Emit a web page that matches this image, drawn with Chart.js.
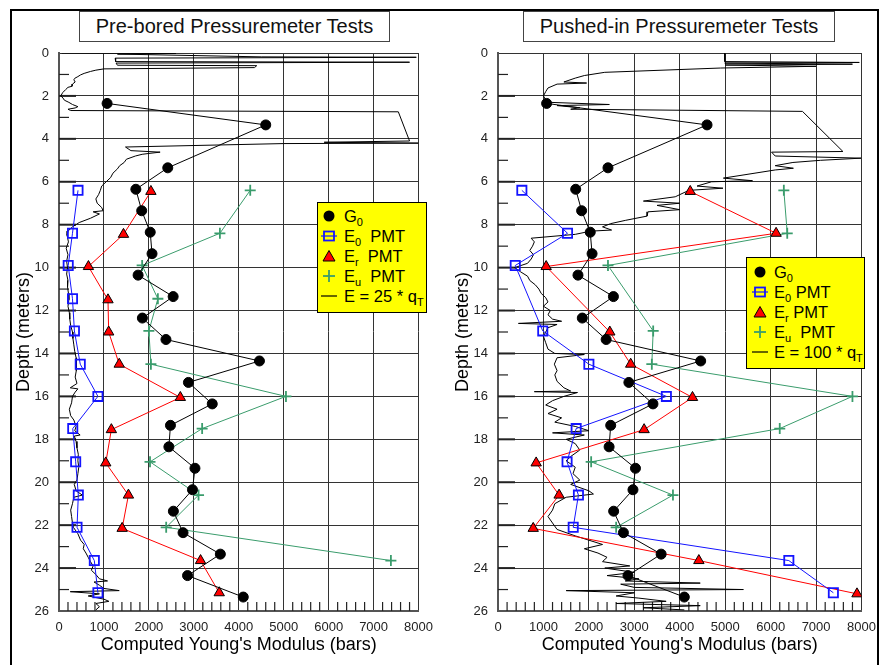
<!DOCTYPE html>
<html>
<head>
<meta charset="utf-8">
<script src="https://cdn.jsdelivr.net/npm/chart.js@4.4.0/dist/chart.umd.min.js"></script>
<style>
  body { margin: 0; background: #fff; font-family: "Liberation Sans", Arial, sans-serif; }
  #wrap { position: relative; width: 885px; height: 665px; overflow: hidden; background: #fff; }
  .frame { position: absolute; left: 10px; top: 9px; width: 869px; height: 700px; border: 2px solid #000; box-sizing: border-box; }
  canvas { position: absolute; top: 0; }
  .title { position: absolute; top: 11px; height: 31px; border: 1px solid #444; box-sizing: border-box; background: #fff;
           font-size: 20px; line-height: 29px; text-align: center; color: #111; }
  .legend { position: absolute; background: #ffff00; border: 1.5px solid #000; box-sizing: border-box; font-size: 16.5px; color: #000; }
  .legend .row { position: absolute; height: 20px; line-height: 20px; white-space: pre; }
  .legend svg { position: absolute; }
  sub { font-size: 11px; vertical-align: -4px; line-height: 0; }
</style>
</head>
<body>
<div id="wrap">
  <canvas id="leftChart" width="442" height="665" style="left:0"></canvas>
  <canvas id="rightChart" width="443" height="665" style="left:442px"></canvas>
  <div class="frame"></div>
  <div class="title" style="left:79px;width:311px">Pre-bored Pressuremeter Tests</div>
  <div class="title" style="left:523px;width:312px">Pushed-in Pressuremeter Tests</div>
  <div class="legend" id="legendLeft" style="left:317px;top:202px;width:110px;height:111px"></div>
  <div class="legend" id="legendRight" style="left:746px;top:257px;width:119px;height:112px"></div>
</div>
<script>
// axis ticks
const modulusTicks = [0, 1000, 2000, 3000, 4000, 5000, 6000, 7000, 8000];
const depthTicks = [0, 2, 4, 6, 8, 10, 12, 14, 16, 18, 20, 22, 24, 26];

// G0 (same in both panels)
const g0Depth = [2.35, 3.35, 5.35, 6.35, 7.35, 8.35, 9.35, 10.35, 11.35, 12.35, 13.35, 14.35, 15.35, 16.35, 17.35, 18.35, 19.35, 20.35, 21.35, 22.35, 23.35, 24.35, 25.35];
const g0Value = [1070, 4600, 2420, 1710, 1840, 2030, 2070, 1760, 2540, 1855, 2380, 4460, 2880, 3410, 2480, 2445, 3025, 2970, 2545, 2760, 3590, 2860, 4100];

// pre-bored PMT
const e0DepthL = [6.4, 8.4, 9.9, 11.45, 12.95, 14.5, 16.0, 17.5, 19.05, 20.6, 22.1, 23.65, 25.15];
const e0ValueL = [423, 300, 205, 300, 343, 473, 866, 306, 371, 430, 401, 786, 866];
const erDepthL = [6.45, 8.45, 9.95, 11.5, 13.0, 14.5, 16.05, 17.55, 19.1, 20.6, 22.15, 23.65, 25.15];
const erValueL = [2045, 1435, 655, 1090, 1105, 1340, 2700, 1165, 1040, 1545, 1405, 3150, 3565];
const euDepthL = [6.4, 8.4, 9.9, 11.45, 12.95, 14.5, 16.0, 17.5, 19.05, 20.6, 22.1, 23.65];
const euValueL = [4255, 3580, 1850, 2200, 2000, 2045, 5050, 3185, 2025, 3105, 2385, 7385];

// pushed-in PMT
const e0DepthR = [6.4, 8.4, 9.9, 12.95, 14.5, 16.0, 17.5, 19.05, 20.6, 22.1, 23.65, 25.15];
const e0ValueR = [525, 1530, 380, 985, 2000, 3705, 1720, 1520, 1770, 1655, 6400, 7380];
const erDepthR = [6.45, 8.4, 9.95, 13.0, 14.5, 16.05, 17.55, 19.1, 20.6, 22.15, 23.65, 25.2];
const erValueR = [4230, 6120, 1060, 2460, 2920, 4280, 3215, 840, 1345, 775, 4420, 7900];
const euDepthR = [6.4, 8.4, 9.9, 12.95, 14.5, 16.0, 17.5, 19.05, 20.6, 22.1];
const euValueR = [6290, 6365, 2420, 3415, 3385, 7800, 6200, 2050, 3850, 2600];

// CPT profile E = 25*qT, [depth, modulus]
const cptLeft = [
  [0.00,60],[0.02,2600],[0.05,1300],[0.18,4500],[0.20,7950],[0.24,1250],[0.40,1260],[0.43,7800],[0.47,1270],
  [0.57,1300],[0.59,4400],[0.68,4350],[0.74,1000],[0.80,820],[0.86,700],[0.95,560],[1.02,480],[1.10,420],
  [1.18,350],[1.25,330],[1.35,360],[1.45,300],[1.55,290],[1.60,200],[1.70,150],[1.85,80],[2.00,40],[2.10,90],
  [2.20,120],[2.30,220],[2.40,300],[2.50,420],[2.56,360],[2.62,200],[2.68,260],[2.74,7550],[4.10,7800],
  [4.16,5900],[4.20,8000],[4.22,5000],[4.38,1480],[4.55,1600],[4.62,2250],[4.68,2000],[4.72,1850],[4.80,1700],
  [4.95,1500],[5.10,1450],[5.25,1350],[5.40,1300],[5.60,1200],[5.80,1150],[6.00,1050],[6.20,950],[6.40,920],
  [6.60,880],[6.80,820],[7.00,850],[7.20,950],[7.35,980],[7.40,760],[7.50,900],[7.70,700],[7.90,450],[8.10,300],
  [8.30,200],[8.50,180],[8.80,210],[9.10,160],[9.40,200],[9.70,170],[10.00,190],[10.30,170],[10.60,200],
  [10.90,190],[11.20,210],[11.50,220],[11.80,200],[12.10,230],[12.40,240],[12.70,260],[13.00,300],[13.30,310],
  [13.60,330],[13.90,350],[14.20,380],[14.50,380],[14.80,390],[15.10,360],[15.40,400],[15.60,250],[15.65,420],
  [15.80,360],[16.00,300],[16.30,280],[16.60,230],[16.90,260],[17.10,330],[17.40,380],[17.60,350],[17.80,470],
  [17.85,340],[18.10,380],[18.40,400],[18.70,430],[19.00,420],[19.30,440],[19.60,420],[19.90,400],[20.10,340],
  [20.40,380],[20.60,520],[20.70,330],[21.00,300],[21.30,260],[21.60,280],[21.90,300],[22.10,320],[22.40,420],
  [22.70,480],[22.90,560],[23.10,540],[23.30,600],[23.50,650],[23.70,700],[23.90,760],[24.10,720],[24.30,820],
  [24.50,900],[24.60,1080],[24.65,780],[24.80,900],[24.95,1000],[25.05,1340],[25.10,250],[25.20,900],[25.30,650],
  [25.45,1000],[25.55,1110],[25.65,820],[25.80,900],[25.95,820]
];

// CPT profile E = 100*qT, [depth, modulus]
const cptRight = [
  [0.00,4990],[0.40,4990],[0.44,7950],[0.47,4990],[0.52,7800],[0.56,5000],[0.62,7000],[0.70,4900],[0.90,2350],
  [1.05,1900],[1.17,1700],[1.35,1450],[1.40,1950],[1.45,1300],[1.63,1100],[1.80,1050],[2.00,1000],[2.18,1050],
  [2.30,1150],[2.40,2450],[2.45,1300],[2.55,1800],[2.62,1600],[2.72,6700],[4.59,7590],[4.62,6020],[4.80,6100],
  [4.90,7990],[5.00,7100],[5.10,6490],[5.25,6100],[5.37,6500],[5.45,6100],[5.83,4960],[5.95,5600],[6.00,4700],
  [6.20,4380],[6.30,4950],[6.40,4200],[6.70,3900],[6.90,3200],[7.00,4000],[7.10,3500],[7.30,4000],[7.40,3300],
  [7.60,3280],[7.80,2800],[7.95,2480],[8.10,2300],[8.25,2500],[8.30,2040],[8.45,1700],[8.63,730],[8.80,800],
  [9.00,760],[9.20,700],[9.40,780],[9.60,730],[9.80,650],[10.00,365],[10.20,500],[10.40,650],[10.60,700],
  [10.80,820],[11.00,900],[11.20,950],[11.40,1050],[11.60,1100],[11.80,1000],[12.00,1150],[12.20,1100],
  [12.40,1200],[12.50,1400],[12.60,450],[12.65,1300],[12.80,1100],[13.00,1050],[13.20,1000],[13.50,1050],
  [13.80,1100],[14.00,1250],[14.05,1900],[14.20,1300],[14.50,1240],[14.80,1300],[15.00,1250],[15.30,1300],
  [15.60,1450],[15.75,1600],[15.78,800],[15.82,1750],[16.00,1450],[16.20,1200],[16.40,1050],[16.60,1300],
  [16.80,1100],[17.00,1400],[17.20,1250],[17.40,1700],[17.60,2000],[17.70,1200],[17.80,1900],[18.00,1500],
  [18.20,1700],[18.50,1800],[18.80,1600],[19.00,1500],[19.30,1700],[19.60,1650],[19.90,1800],[20.10,1600],
  [20.40,2000],[20.55,2100],[20.70,1500],[21.00,1250],[21.30,1200],[21.60,1100],[21.90,1200],[22.20,1300],
  [22.50,1700],[22.70,2000],[22.90,2300],[23.10,1900],[23.30,2200],[23.50,2400],[23.70,2300],[23.90,2900],
  [24.00,2350],[24.20,3000],[24.35,2400],[24.50,3100],[24.60,2800],[24.70,4450],[24.75,2700],[24.90,3000],
  [25.00,5400],[25.05,1500],[25.15,3000],[25.30,2600],[25.40,3100],[25.55,3700],[25.65,2600],[25.75,4450],
  [25.85,3200],[25.95,4100]
];

const BLUE = '#1414ff';
const RED = '#ff0000';
const GREEN = '#3a9c6c';

Chart.defaults.font.family = '"Liberation Sans", Arial, sans-serif';
Chart.defaults.color = '#222';

function toPoints(depths, values) {
  return depths.map((d, i) => ({ x: values[i], y: d }));
}

// small ticks inside the plot frame
const innerTicks = {
  id: 'innerTicks',
  beforeDatasetsDraw(chart) {
    const { ctx, chartArea: a, scales: { x, y } } = chart;
    ctx.save();
    ctx.strokeStyle = '#222';
    for (let d = 1; d < 26; d++) {
      const py = y.getPixelForValue(d);
      ctx.lineWidth = d % 2 ? 1.2 : 2;
      ctx.beginPath();
      ctx.moveTo(a.left, py);
      ctx.lineTo(a.left + (d % 2 ? 10 : 17), py);
      ctx.stroke();
    }
    ctx.lineWidth = 1.2;
    for (let v = 200; v < 8000; v += 200) {
      if (v % 1000 === 0) continue;
      const px = x.getPixelForValue(v);
      ctx.beginPath();
      ctx.moveTo(px, a.bottom);
      ctx.lineTo(px, a.bottom - 9);
      ctx.stroke();
    }
    ctx.restore();
  }
};

function makeChart(id, cfg) {
  const ctx = document.getElementById(id).getContext('2d');
  return new Chart(ctx, {
    type: 'scatter',
    data: {
      datasets: [
        { label: 'G0', data: toPoints(g0Depth, g0Value), showLine: true, borderColor: '#000', borderWidth: 1,
          pointStyle: 'circle', pointRadius: 5, pointBackgroundColor: '#000', pointBorderColor: '#000', pointBorderWidth: 1 },
        { label: 'E0 PMT', data: toPoints(cfg.e0Depth, cfg.e0Value), showLine: true, borderColor: BLUE, borderWidth: 1,
          pointStyle: 'rect', pointRadius: 6.5, pointBackgroundColor: 'rgba(0,0,0,0)', pointBorderColor: BLUE, pointBorderWidth: 1.8 },
        { label: 'Er PMT', data: toPoints(cfg.erDepth, cfg.erValue), showLine: true, borderColor: RED, borderWidth: 1,
          pointStyle: 'triangle', pointRadius: 6, pointBackgroundColor: RED, pointBorderColor: '#000', pointBorderWidth: 1 },
        { label: 'Eu PMT', data: toPoints(cfg.euDepth, cfg.euValue), showLine: true, borderColor: GREEN, borderWidth: 1,
          pointStyle: 'cross', pointRadius: 5.5, pointBorderColor: GREEN, pointBorderWidth: 1.8 },
        { label: 'CPT', data: cfg.trace.map(p => ({ x: p[1], y: p[0] })), showLine: true, borderColor: '#000', borderWidth: 1,
          pointRadius: 0 }
      ]
    },
    options: {
      responsive: false,
      animation: false,
      layout: { padding: { left: 0, top: 53, right: cfg.padRight, bottom: 0 } },
      plugins: { legend: { display: false }, tooltip: { enabled: false } },
      scales: {
        x: {
          type: 'linear', min: 0, max: 8000,
          afterBuildTicks: s => { s.ticks = modulusTicks.map(v => ({ value: v })); },
          afterFit: s => { s.height = 54; },
          ticks: { padding: 9, font: { size: 13 }, color: '#222', callback: v => String(v) },
          grid: { color: '#333', lineWidth: 1, drawTicks: false },
          border: { color: '#555', width: 2 },
          title: { display: true, text: "Computed Young's Modulus (bars)", font: { size: 18 }, color: '#000',
                   padding: { top: 0, bottom: 9 } }
        },
        y: {
          type: 'linear', min: 0, max: 26, reverse: true,
          afterBuildTicks: s => { s.ticks = depthTicks.map(v => ({ value: v })); },
          afterFit: s => { s.width = cfg.yWidth; },
          ticks: { padding: 10, font: { size: 13 }, color: '#222', callback: v => String(v) },
          grid: { color: '#333', lineWidth: 1, drawTicks: false },
          border: { color: '#555', width: 2 },
          title: { display: true, text: 'Depth (meters)', font: { size: 18 }, color: '#000',
                   padding: { top: cfg.yTitlePad, bottom: 0 } }
        }
      }
    },
    plugins: [innerTicks]
  });
}

makeChart('leftChart', {
  e0Depth: e0DepthL, e0Value: e0ValueL, erDepth: erDepthL, erValue: erValueL,
  euDepth: euDepthL, euValue: euValueL, trace: cptLeft,
  padRight: 16, yWidth: 59, yTitlePad: 13
});
makeChart('rightChart', {
  e0Depth: e0DepthR, e0Value: e0ValueR, erDepth: erDepthR, erValue: erValueR,
  euDepth: euDepthR, euValue: euValueR, trace: cptRight,
  padRight: 21, yWidth: 56, yTitlePad: 10
});

// yellow legend boxes
const symbols = {
  g0: '<svg width="16" height="16"><circle cx="8" cy="8" r="5.5" fill="#000"/></svg>',
  e0: '<svg width="16" height="16"><line x1="0" y1="8" x2="16" y2="8" stroke="' + BLUE + '" stroke-width="1.2"/>' +
      '<rect x="3" y="3.5" width="10" height="9" fill="none" stroke="' + BLUE + '" stroke-width="1.8"/></svg>',
  er: '<svg width="16" height="16"><polygon points="8,2.5 14,13 2,13" fill="' + RED + '" stroke="#000" stroke-width="1"/></svg>',
  eu: '<svg width="16" height="16"><line x1="2" y1="8" x2="14" y2="8" stroke="' + GREEN + '" stroke-width="1.8"/>' +
      '<line x1="8" y1="2" x2="8" y2="14" stroke="' + GREEN + '" stroke-width="1.8"/></svg>',
  cpt: '<svg width="16" height="16"><line x1="0" y1="8" x2="16" y2="8" stroke="#000" stroke-width="1.2"/></svg>'
};

function buildLegend(id, rows, symX, textX, firstY, gap) {
  const box = document.getElementById(id);
  rows.forEach((r, i) => {
    const cy = firstY + i * gap;
    const s = document.createElement('div');
    s.innerHTML = symbols[r.sym];
    s.firstChild.style.left = (symX - 8) + 'px';
    s.firstChild.style.top = (cy - 8) + 'px';
    box.appendChild(s.firstChild);
    const t = document.createElement('div');
    t.className = 'row';
    t.style.left = textX + 'px';
    t.style.top = (cy - 10) + 'px';
    t.innerHTML = r.text;
    box.appendChild(t);
  });
}

buildLegend('legendLeft', [
  { sym: 'g0', text: 'G<sub>0</sub>' },
  { sym: 'e0', text: 'E<sub>0</sub>  PMT' },
  { sym: 'er', text: 'E<sub>r</sub>  PMT' },
  { sym: 'eu', text: 'E<sub>u</sub>  PMT' },
  { sym: 'cpt', text: 'E = 25 * q<sub>T</sub>' }
], 11, 26, 13, 20);

buildLegend('legendRight', [
  { sym: 'g0', text: 'G<sub>0</sub>' },
  { sym: 'e0', text: 'E<sub>0</sub> PMT' },
  { sym: 'er', text: 'E<sub>r</sub> PMT' },
  { sym: 'eu', text: 'E<sub>u</sub>  PMT' },
  { sym: 'cpt', text: 'E = 100 * q<sub>T</sub>' }
], 13, 27, 14, 20);
</script>
</body>
</html>
